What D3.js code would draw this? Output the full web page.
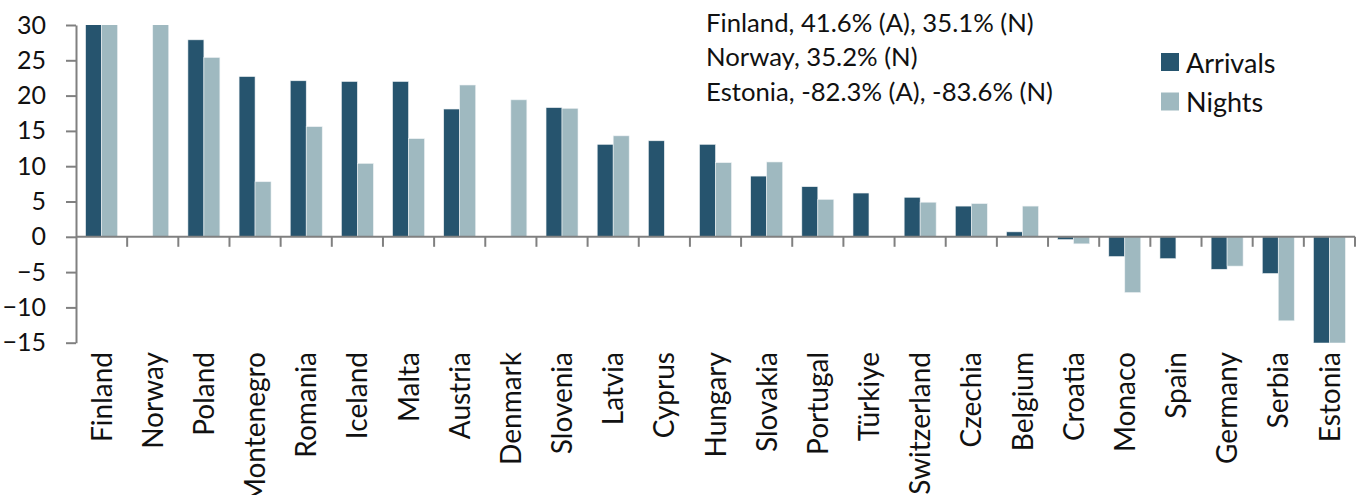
<!DOCTYPE html>
<html>
<head>
<meta charset="utf-8">
<script src="https://cdn.jsdelivr.net/npm/d3@7"></script>
<style>
  html, body { margin: 0; padding: 0; background: #fff; }
  svg { display: block; }
  text { font-family: Lato, "Noto Sans", sans-serif; fill: #111; }
</style>
</head>
<body>
<svg id="chart" width="1366" height="495"></svg>
<script>
// Year-on-year change in tourist arrivals and nights, % (values beyond the axis are clipped)
const countries = ["Finland", "Norway", "Poland", "Montenegro", "Romania", "Iceland", "Malta",
  "Austria", "Denmark", "Slovenia", "Latvia", "Cyprus", "Hungary", "Slovakia", "Portugal",
  "Türkiye", "Switzerland", "Czechia", "Belgium", "Croatia", "Monaco", "Spain", "Germany",
  "Serbia", "Estonia"];
const arrivals = [41.6, null, 27.9, 22.7, 22.1, 22.0, 22.0, 18.1, null, 18.3, 13.1, 13.6, 13.1,
  8.6, 7.1, 6.2, 5.6, 4.35, 0.7, -0.4, -2.8, -3.1, -4.6, -5.2, -82.3];
const nights = [35.1, 35.2, 25.4, 7.8, 15.6, 10.4, 13.9, 21.5, 19.4, 18.2, 14.3, null, 10.5,
  10.6, 5.3, null, 4.9, 4.7, 4.35, -1.0, -7.9, null, -4.15, -11.9, -83.6];
const seriesNames = ["Arrivals", "Nights"];
const seriesColors = ["#26546e", "#9fb9c0"];
const yTicks = [30, 25, 20, 15, 10, 5, 0, -5, -10, -15];
const notes = ["Finland, 41.6% (A), 35.1% (N)", "Norway, 35.2% (N)", "Estonia, -82.3% (A), -83.6% (N)"];

const svg = d3.select("#chart");
const plotL = 76, plotR = 1355, plotT = 25, plotB = 342.7;

const x = d3.scaleBand().domain(countries).range([plotL, plotR])
  .paddingInner(0.375).paddingOuter(0.1875);
const xs = d3.scaleBand().domain(seriesNames).range([0, x.bandwidth()]);
const y = d3.scaleLinear().domain([-15, 30]).range([plotB, plotT]);

svg.append("defs").append("clipPath").attr("id", "plot-clip")
  .append("rect").attr("x", plotL).attr("y", plotT).attr("width", plotR - plotL).attr("height", plotB - plotT);

const rows = countries.map((c, i) => ({ c, vals: [arrivals[i], nights[i]] }));

// bars
const g = svg.append("g").attr("clip-path", "url(#plot-clip)");
const groups = g.selectAll("g.cat").data(rows).join("g")
  .attr("transform", d => `translate(${x(d.c)},0)`);
groups.selectAll("rect")
  .data(d => d.vals.map((v, k) => ({ v, k })).filter(e => e.v !== null))
  .join("rect")
  .attr("x", e => xs(seriesNames[e.k]))
  .attr("width", xs.bandwidth())
  .attr("y", e => y(Math.max(0, e.v)))
  .attr("height", e => Math.abs(y(e.v) - y(0)))
  .attr("fill", e => seriesColors[e.k])
  .attr("stroke", "#eef2f4").attr("stroke-width", 0.6);

// y axis
const yAxis = d3.axisLeft(y).tickValues(yTicks).tickSize(10).tickPadding(20).tickSizeOuter(0);
const ya = svg.append("g").attr("transform", `translate(${plotL},0)`).call(yAxis);
ya.selectAll("path, line").attr("stroke", "#808080").attr("stroke-width", 2);
ya.selectAll("text").attr("font-size", 25).attr("fill", "#111").attr("font-family", "Lato, sans-serif");

// x axis at zero with boundary ticks
const xa = svg.append("g").attr("transform", `translate(0,${y(0)})`);
xa.append("line").attr("x1", plotL).attr("x2", plotR).attr("stroke", "#808080").attr("stroke-width", 2);
const bounds = countries.map(c => x(c) - x.step() * x.paddingInner() / 2).concat([plotR]);
xa.selectAll("line.tick").data(bounds.slice(1)).join("line").attr("class", "tick")
  .attr("x1", d => d).attr("x2", d => d).attr("y1", 0).attr("y2", 10)
  .attr("stroke", "#808080").attr("stroke-width", 2);

// category labels, rotated
svg.append("g").selectAll("text").data(countries).join("text")
  .attr("transform", c => `translate(${x(c) + x.bandwidth() / 2},352) rotate(-90)`)
  .attr("text-anchor", "end").attr("dy", "0.36em")
  .attr("font-size", 28)
  .text(c => c);

// notes for clipped values
svg.append("g").selectAll("text").data(notes).join("text")
  .attr("x", 706).attr("y", (d, i) => 32 + i * 34.3)
  .attr("font-size", 25.7)
  .text(d => d);

// legend
const lg = svg.append("g").selectAll("g").data(seriesNames).join("g")
  .attr("transform", (d, i) => `translate(1161,${53 + i * 39.5})`);
lg.append("rect").attr("width", 18).attr("height", 18).attr("fill", (d, i) => seriesColors[i]);
lg.append("text").attr("x", 25).attr("y", 19.5).attr("font-size", 27).text(d => d);
</script>
</body>
</html>
